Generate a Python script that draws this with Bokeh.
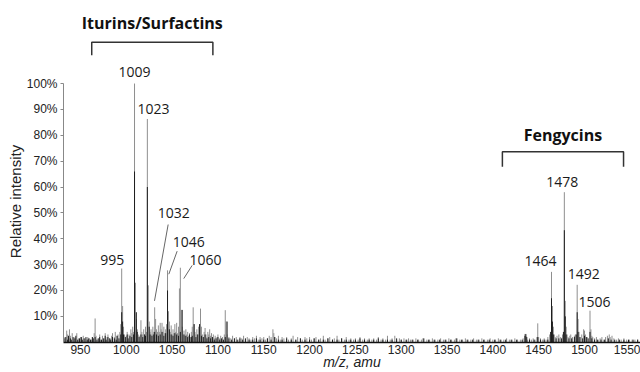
from bokeh.plotting import figure
from bokeh.layouts import column
from bokeh.models import ColumnDataSource, FixedTicker
from bokeh.core.properties import value
from bokeh.embed import file_html
from bokeh.resources import INLINE

# ---------------- data ----------------
# gray spectrum (m/z, relative intensity %)
gray_mz = [933, 935, 936, 938, 939, 941, 943, 944, 946, 948, 950, 951, 953, 955, 957, 958, 960, 962, 963, 965,
           966, 967, 969, 971, 972, 974, 976, 977, 979, 980, 982, 984, 985, 987, 988, 990, 991, 993, 994, 995,
           996, 997, 998, 1000, 1001, 1003, 1004, 1005, 1006, 1007, 1008, 1009, 1010, 1011, 1012, 1013, 1014, 1016, 1017, 1018,
           1019, 1020, 1021, 1022, 1023, 1024, 1025, 1026, 1027, 1028, 1029, 1030, 1031, 1032, 1033, 1034, 1035, 1036, 1037, 1038,
           1039, 1040, 1041, 1042, 1043, 1044, 1045, 1046, 1047, 1048, 1049, 1050, 1051, 1052, 1053, 1054, 1055, 1056, 1057, 1058,
           1059, 1060, 1061, 1062, 1063, 1064, 1065, 1066, 1067, 1068, 1069, 1070, 1071, 1072, 1073, 1074, 1075, 1076, 1077, 1078,
           1079, 1080, 1081, 1082, 1083, 1084, 1085, 1086, 1087, 1088, 1089, 1090, 1091, 1092, 1093, 1094, 1095, 1096, 1097, 1099,
           1100, 1102, 1103, 1105, 1107, 1108, 1109, 1110, 1112, 1114, 1116, 1118, 1120, 1122, 1124, 1126, 1128, 1130, 1132, 1134,
           1136, 1138, 1140, 1142, 1144, 1146, 1148, 1150, 1152, 1154, 1156, 1158, 1160, 1161, 1162, 1164, 1166, 1168, 1170, 1172,
           1175, 1177, 1180, 1182, 1185, 1187, 1190, 1192, 1195, 1197, 1200, 1202, 1205, 1207, 1210, 1212, 1215, 1217, 1220, 1222,
           1225, 1227, 1230, 1232, 1235, 1238, 1240, 1243, 1245, 1248, 1250, 1253, 1255, 1258, 1260, 1263, 1265, 1268, 1270, 1273,
           1275, 1278, 1280, 1283, 1285, 1288, 1290, 1293, 1295, 1298, 1300, 1303, 1305, 1308, 1310, 1313, 1316, 1319, 1322, 1325,
           1328, 1331, 1334, 1337, 1340, 1343, 1346, 1349, 1352, 1355, 1358, 1361, 1364, 1367, 1370, 1373, 1376, 1379, 1382, 1385,
           1388, 1391, 1394, 1397, 1400, 1403, 1406, 1409, 1412, 1415, 1418, 1421, 1424, 1427, 1430, 1433, 1435, 1436, 1438, 1440,
           1442, 1444, 1446, 1448, 1449, 1450, 1452, 1454, 1456, 1458, 1460, 1462, 1464, 1465, 1466, 1467, 1468, 1470, 1472, 1474,
           1476, 1478, 1479, 1480, 1481, 1482, 1484, 1485, 1487, 1489, 1490, 1492, 1493, 1494, 1495, 1497, 1499, 1500, 1501, 1503,
           1506, 1507, 1508, 1509, 1511, 1513, 1515, 1517, 1519, 1521, 1523, 1525, 1527, 1528, 1530, 1532, 1535, 1537, 1540, 1543,
           1546, 1549, 1552, 1555, 1558]
gray_int = [2, 4.5, 3, 5, 2.5, 3.5, 1.5, 2, 3.5, 1.5, 2, 1, 2.5, 1.5, 1, 2, 1.5, 1, 2, 3.5,
            9.2, 2.5, 1.5, 3, 1, 2.5, 1.5, 3.5, 2, 3, 1.5, 2.5, 3.5, 2, 4, 2.5, 3, 4, 7, 28.5,
            14, 6, 3, 2.5, 4, 3, 2, 5, 3.5, 6, 4, 100, 23, 9, 5, 3, 2.5, 8.5, 4, 3,
            5, 3, 6, 4, 86.3, 22, 8, 4, 5, 3, 6, 4, 13.5, 9, 5, 4, 6.5, 4, 7.5, 5,
            7.5, 4, 6, 3.5, 5, 7, 27.8, 12, 8, 4, 6.5, 3, 5, 3.5, 7, 4, 7.5, 3.5, 6, 20.8,
            28.8, 12.5, 6, 3, 4.5, 2.5, 5, 3, 4, 2.5, 3.5, 2, 4, 6, 13.5, 7, 4, 3, 5, 3,
            6, 7, 13, 6, 3, 2, 4, 5.5, 3, 2, 4, 3, 5, 2.5, 3.5, 2, 3, 1.5, 2.5, 2,
            3, 1.5, 2.5, 2, 3, 12.4, 8, 3, 2, 1.5, 2.5, 1.5, 2, 1, 2, 1.5, 2.5, 1, 2, 1.5,
            1, 2, 1.5, 2.5, 1, 2, 1.5, 2, 1, 1.5, 2.5, 2, 5, 3.5, 2, 1.5, 2.5, 1, 2, 1.5,
            2, 1, 1.5, 2.5, 1, 2, 1.5, 1, 2, 1.5, 2, 1, 1.5, 2, 1, 1.5, 2.5, 1, 1.5, 2,
            1, 1.5, 2.5, 1, 1.5, 1, 2, 1, 1.5, 1, 1.5, 1, 2, 1, 1.5, 1, 1.5, 1, 1.5, 1,
            2, 1, 1.5, 1, 2.5, 1, 1.5, 2.5, 1, 1.5, 1, 1.5, 1, 1.5, 1, 1, 1.5, 1, 1, 1.5,
            1, 1, 1.5, 1, 1, 1.5, 1, 1, 1.5, 1, 1, 1.5, 1, 1, 1.5, 1, 1, 1.5, 1, 1,
            1.5, 1, 1, 1.5, 1, 1, 1.5, 1, 1, 1.5, 1, 1, 1.5, 1, 1, 1.5, 3.2, 2.5, 1, 1.5,
            1, 1.5, 1, 2, 7.3, 2, 1.5, 1, 1.5, 1, 2, 3, 27.2, 14, 6, 3, 2, 2.5, 3, 2,
            3, 58, 16, 6, 3, 2, 2.5, 3, 2, 2.5, 3, 22.2, 9, 4, 2, 3, 5, 4.5, 3, 2,
            12.2, 5, 2.5, 2, 1.5, 2, 1, 1.5, 2, 1, 2, 2.5, 3, 2, 2.5, 1.5, 1, 1.5, 1, 1.5,
            1, 1, 1, 1, 1]

# black spectrum (m/z, relative intensity %)
black_mz = [932, 934, 936, 937, 939, 940, 942, 944, 945, 947, 949, 951, 952, 954, 956, 958, 959, 961, 963, 964,
            966, 968, 970, 971, 973, 975, 977, 978, 980, 982, 983, 985, 987, 989, 990, 992, 994, 995, 996, 997,
            999, 1001, 1002, 1004, 1006, 1008, 1009, 1011, 1012, 1014, 1016, 1018, 1020, 1021, 1023, 1025, 1026, 1028, 1030, 1031,
            1033, 1035, 1037, 1039, 1041, 1043, 1045, 1047, 1049, 1051, 1053, 1055, 1057, 1059, 1061, 1063, 1065, 1067, 1069, 1071,
            1072, 1074, 1076, 1078, 1080, 1082, 1084, 1086, 1088, 1090, 1092, 1094, 1096, 1098, 1100, 1102, 1104, 1106, 1108, 1110,
            1112, 1115, 1118, 1121, 1124, 1127, 1130, 1134, 1138, 1142, 1146, 1150, 1154, 1158, 1162, 1166, 1170, 1175, 1180, 1185,
            1190, 1195, 1200, 1205, 1210, 1215, 1220, 1225, 1230, 1235, 1240, 1245, 1250, 1255, 1260, 1265, 1270, 1275, 1280, 1285,
            1290, 1295, 1300, 1306, 1312, 1318, 1324, 1330, 1336, 1342, 1348, 1354, 1360, 1366, 1372, 1378, 1384, 1390, 1396, 1402,
            1408, 1414, 1420, 1426, 1432, 1435, 1436, 1437, 1440, 1445, 1449, 1452, 1456, 1460, 1463, 1464, 1465, 1466, 1469, 1472,
            1475, 1477, 1478, 1479, 1480, 1483, 1486, 1489, 1491, 1492, 1493, 1495, 1498, 1500, 1502, 1504, 1506, 1508, 1511, 1514,
            1518, 1522, 1526, 1529, 1533, 1538, 1543, 1548, 1553, 1558]
black_int = [1.5, 2, 1, 2.5, 1.5, 1, 2, 1.5, 2.5, 1, 1.5, 2, 1, 1.5, 2, 1, 1.5, 1, 2, 1.5,
             2, 1, 1.5, 2, 1, 1.5, 2.5, 1, 2, 1.5, 1, 2, 1.5, 1, 2.5, 1.5, 3, 11.6, 8, 3,
             2, 3, 1.5, 2.5, 2, 3, 66, 11.6, 4, 2, 3, 2, 3, 2.5, 60, 6, 3, 2.5, 3, 4,
             3, 2.5, 3, 4, 2.5, 3.5, 20, 5, 3, 2.5, 3.5, 3, 2.5, 4, 12.5, 3, 2.5, 2, 3, 2,
             2.5, 7, 2, 3, 7, 2.5, 2, 3, 1.5, 2, 1.5, 2, 1, 1.5, 2, 1, 1.5, 1, 2, 8,
             1.5, 1, 1.5, 1, 1.5, 1, 1.5, 1, 1, 1.5, 1, 1, 1.5, 1, 2, 1, 1, 1.5, 1, 1,
             1.5, 1, 1, 1.5, 1, 1, 1.5, 1, 1, 1.5, 1, 1, 1, 1.5, 1, 1, 1, 1.5, 1, 1,
             1, 1.5, 1, 1, 1, 1, 1.5, 1, 1, 1, 1, 1, 1.5, 1, 1, 1, 1, 1, 1, 1,
             1, 1, 1, 1, 1, 2.5, 3.2, 2, 1, 1, 2, 1, 1, 1, 4, 17, 8, 3, 1.5, 1.5,
             1.5, 4, 43.3, 10, 3, 1.5, 1.5, 2, 3, 11.6, 4, 2, 1.5, 2.5, 2, 1.5, 4, 1.5, 1, 1,
             1, 1, 1.5, 1, 1, 1, 1, 1, 1, 1]

# peak annotations
label_text = ["995", "1009", "1023", "1032", "1046", "1060", "1464", "1478", "1492", "1506"]
label_mz = [984.6, 1009, 1029.7, 1051.8, 1068.2, 1086.4, 1452, 1475.7, 1499.3, 1511]
label_pct = [31.7, 104.3, 90.1, 50.1, 38.8, 31.7, 31.4, 61.8, 26.5, 15.6]
# leader lines (from label to peak)
leader_x0 = [1045.7, 1055.5, 1071.9]
leader_y0 = [45.5, 35.2, 29.7]
leader_x1 = [1030.8, 1046.4, 1062.7]
leader_y1 = [16.0, 26.3, 24.6]

# compound class brackets
group_names = ["Iturins/Surfactins", "Fengycins"]
group_start = [962.3, 1410.4]
group_end = [1094.5, 1542.6]
group_top = [115.9, 73.6]
group_tick = [5.0, 5.8]
group_text_pct = [123.2, 80.1]

x_ticks = [950, 1000, 1050, 1100, 1150, 1200, 1250, 1300, 1350, 1400, 1450, 1500, 1550]
y_ticks = [10, 20, 30, 40, 50, 60, 70, 80, 90, 100]
y_tick_labels = ["10%", "20%", "30%", "40%", "50%", "60%", "70%", "80%", "90%", "100%"]
x_title = "m/z, amu"
y_title = "Relative intensity"

# ---------------- layout constants ----------------
W = 640
TOP_H = 60
MAIN_H = 312
PX_PER_PCT = 2.6
Y_MAIN = (-0.1, 108.9)
Y_TOP = (Y_MAIN[1], Y_MAIN[1] + TOP_H / PX_PER_PCT)
X_RANGE = (931.5, 1561.1)

# top strip (bracket above the spectrum)
top = figure(width=W, height=TOP_H, x_range=X_RANGE, y_range=Y_TOP,
             output_backend="svg", toolbar_location=None,
             min_border_left=63, min_border_right=0, min_border_top=0, min_border_bottom=0)
top.axis.visible = False
top.grid.visible = False
top.outline_line_color = None

# main spectrum
p = figure(width=W, height=MAIN_H, x_range=top.x_range, y_range=Y_MAIN,
           output_backend="svg", toolbar_location=None,
           min_border_left=63, min_border_right=0, min_border_top=0, min_border_bottom=29)
p.outline_line_color = None
p.grid.visible = False

gsrc = ColumnDataSource(dict(x=gray_mz, y=gray_int, z=[0] * len(gray_mz)))
bsrc = ColumnDataSource(dict(x=black_mz, y=black_int, z=[0] * len(black_mz)))
p.segment(x0="x", y0="z", x1="x", y1="y", source=gsrc, line_color="#8f8f8f", line_width=1)
p.segment(x0="x", y0="z", x1="x", y1="y", source=bsrc, line_color="#1e1e1e", line_width=1)

# leaders
p.segment(x0=leader_x0, y0=leader_y0, x1=leader_x1, y1=leader_y1, line_color="#666666", line_width=1)

# peak labels
p.text(x=label_mz, y=label_pct, text=label_text, text_align="center", text_baseline="middle",
       text_font=value("Open Sans"), text_font_size="14px", text_color="#1a1a1a")

# brackets + group names (placed in whichever panel holds them)
for name, s, e, t, tk, tp in zip(group_names, group_start, group_end, group_top, group_tick, group_text_pct):
    fig = top if t > Y_MAIN[1] else p
    fig.line(x=[s, s, e, e], y=[t - tk, t, t, t - tk], line_color="#333333", line_width=1.5)
    fig.text(x=[(s + e) / 2], y=[tp], text=[name], text_align="center", text_baseline="middle",
             text_font=value("Open Sans"), text_font_size="16px", text_font_style="bold",
             text_color="#111111")

# axes
xa = p.xaxis[0]
xa.ticker = FixedTicker(ticks=x_ticks)
xa.major_tick_out = 0
xa.major_tick_in = 0
xa.minor_tick_out = 0
xa.minor_tick_in = 0
xa.major_label_standoff = 2
xa.axis_line_color = "#111111"
xa.axis_line_width = 1.5
xa.major_label_text_font = "Liberation Sans"
xa.major_label_text_font_size = "12px"
xa.major_label_text_color = "#222222"
xa.axis_label = x_title
xa.axis_label_text_font = "Liberation Sans"
xa.axis_label_text_font_size = "14px"
xa.axis_label_text_font_style = "italic"
xa.axis_label_text_color = "#222222"
xa.axis_label_standoff = -3

ya = p.yaxis[0]
ya.ticker = FixedTicker(ticks=y_ticks)
ya.major_label_overrides = {t: l for t, l in zip(y_ticks, y_tick_labels)}
ya.bounds = (0, 100)
ya.major_tick_out = 3
ya.major_tick_in = 0
ya.minor_tick_out = 0
ya.minor_tick_in = 0
ya.major_label_standoff = 3
ya.axis_line_color = "#888888"
ya.major_tick_line_color = "#888888"
ya.major_label_text_font = "Liberation Sans"
ya.major_label_text_font_size = "12px"
ya.major_label_text_color = "#222222"
ya.axis_label = y_title
ya.axis_label_text_font = "Liberation Sans"
ya.axis_label_text_font_size = "15px"
ya.axis_label_text_font_style = "normal"
ya.axis_label_text_color = "#222222"
ya.axis_label_standoff = 0

layout = column(top, p, spacing=0)
open("out.html", "w").write(file_html(layout, INLINE))
